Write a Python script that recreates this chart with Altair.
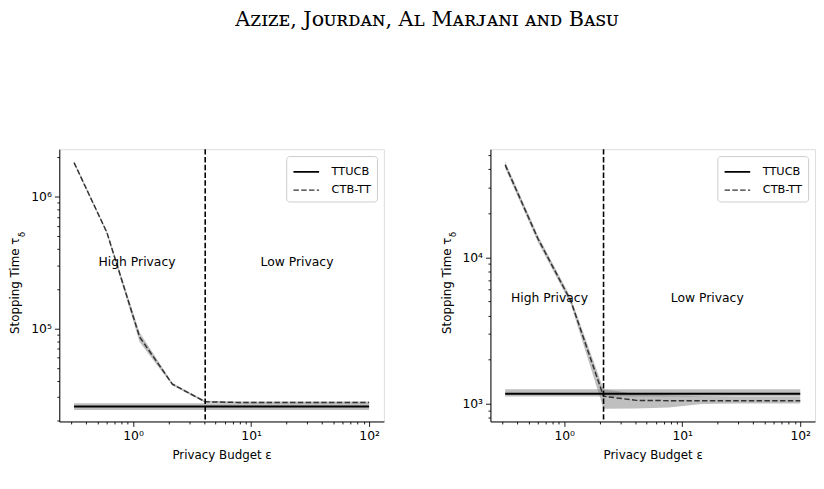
import altair as alt
import pandas as pd

# ---------------- data ----------------
eps = [0.316, 0.599, 1.136, 2.154, 4.084, 7.743, 14.68, 27.83, 52.75, 100.0]

# left panel
L_ttucb    = [25500, 25500, 25500, 25500, 25500, 25500, 25500, 25500, 25500, 25500]
L_ttucb_lo = [24000, 24000, 24000, 24000, 24000, 24000, 24000, 24000, 24000, 24000]
L_ttucb_hi = [27000, 27000, 27000, 27000, 27000, 27000, 27000, 27000, 27000, 27000]
L_ctb      = [1820000, 537000, 86000, 37700, 27700, 27400, 27400, 27400, 27400, 27400]
L_ctb_lo   = [1780000, 525000, 79000, 36900, 27200, 26900, 26900, 26900, 26900, 26900]
L_ctb_hi   = [1860000, 550000, 93000, 38500, 28200, 27900, 27900, 27900, 27900, 27900]
L_split = [4.084]
L_text = ["High Privacy", "Low Privacy"]
L_text_x = [1.08, 24.5]
L_text_y = [322000, 322000]

# right panel
R_ttucb    = [1167, 1167, 1167, 1167, 1167, 1167, 1167, 1167, 1167, 1167]
R_ttucb_lo = [1115, 1115, 1115, 1115, 1115, 1115, 1115, 1115, 1115, 1115]
R_ttucb_hi = [1250, 1250, 1250, 1250, 1250, 1250, 1250, 1250, 1250, 1250]
R_ctb      = [42900, 13400, 5040, 1120, 1050, 1045, 1045, 1045, 1045, 1045]
R_ctb_lo   = [40800, 12700, 4800, 920, 925, 940, 990, 1000, 1000, 1000]
R_ctb_hi   = [45100, 14100, 5300, 1250, 1160, 1140, 1120, 1110, 1110, 1110]
R_split = [2.154]
R_text = ["High Privacy", "Low Privacy"]
R_text_x = [0.75, 16.3]
R_text_y = [5300, 5300]

series = ["TTUCB", "CTB-TT"]

x_ticks = [0.3, 0.4, 0.5, 0.6, 0.7, 0.8, 0.9, 1, 2, 3, 4, 5, 6, 7, 8, 9,
           10, 20, 30, 40, 50, 60, 70, 80, 90, 100]
L_y_ticks = [20000, 30000, 40000, 50000, 60000, 70000, 80000, 90000, 100000,
             200000, 300000, 400000, 500000, 600000, 700000, 800000, 900000,
             1000000, 2000000]
R_y_ticks = [800, 900, 1000, 2000, 3000, 4000, 5000, 6000, 7000, 8000, 9000,
             10000, 20000, 30000, 40000, 50000]

FONT = "DejaVu Sans"
X_DOMAIN = [0.237, 133.4]


def axis(values, majors, labels, title, title_pad):
    test = "indexof(" + str(majors) + ", datum.value) >= 0"
    expr = ""
    for m, lab in zip(majors, labels):
        expr += f"datum.value == {m} ? '{lab}' : "
    expr += "''"
    return alt.Axis(
        values=values, labelExpr=expr, title=title, grid=False,
        tickSize={"condition": {"test": test, "value": 5}, "value": 2.5},
        tickColor="black", domainColor="black", tickWidth=0.9,
        labelFont=FONT, labelFontSize=12.5, labelColor="black",
        titleFont=FONT, titleFontSize=12, titleFontWeight="normal",
        titleColor="black", labelPadding=3, labelFlush=False,
        labelOverlap=False, titlePadding=title_pad,
    )


def legend():
    return alt.Legend(
        title=None, orient="top-right", offset=7,
        padding=6, strokeColor="#cccccc", cornerRadius=3,
        fillColor="white", labelFont=FONT, labelFontSize=11.5,
        labelColor="black", symbolType="M-1,0H2",
        symbolSize=300, symbolStrokeWidth=1.6,
        rowPadding=3, labelOffset=20)


def panel(tt, tt_lo, tt_hi, cb, cb_lo, cb_hi, split, txt, tx, ty,
          y_domain, y_ticks, y_majors, y_labels):
    lines = pd.DataFrame({
        "eps": eps + eps,
        "val": tt + cb,
        "lo": tt_lo + cb_lo,
        "hi": tt_hi + cb_hi,
        "series": ["TTUCB"] * len(eps) + ["CTB-TT"] * len(eps),
    })
    xs = alt.Scale(type="log", domain=X_DOMAIN, nice=False, zero=False)
    ys = alt.Scale(type="log", domain=y_domain, nice=False, zero=False)
    xenc = alt.X("eps:Q", scale=xs,
                 axis=axis(x_ticks, [1, 10, 100], ["10⁰", "10¹", "10²"],
                           "Privacy Budget ε", 8))
    yaxis = axis(y_ticks, y_majors, y_labels, "Stopping Time τ", 9)
    base = alt.Chart(lines)
    band = base.mark_area(color="#808080", opacity=0.5).encode(
        x=xenc,
        y=alt.Y("lo:Q", scale=ys, axis=yaxis),
        y2="hi:Q",
        detail="series:N",
    )
    line = base.mark_line().encode(
        x=xenc,
        y=alt.Y("val:Q", scale=ys, axis=yaxis),
        color=alt.Color("series:N",
                        scale=alt.Scale(domain=series, range=["#000000", "#333333"]),
                        legend=legend()),
        strokeDash=alt.StrokeDash("series:N",
                                  scale=alt.Scale(domain=series, range=[[1, 0], [5.5, 2.4]]),
                                  legend=legend()),
        strokeWidth=alt.StrokeWidth("series:N",
                                    scale=alt.Scale(domain=series, range=[2.0, 1.5]),
                                    legend=None),
    )
    rule = alt.Chart(pd.DataFrame({"eps": split})).mark_rule(
        color="black", strokeWidth=1.6, strokeDash=[5.5, 2.4]
    ).encode(x=alt.X("eps:Q", scale=xs))
    text = alt.Chart(pd.DataFrame({"x": tx, "y": ty, "t": txt})).mark_text(
        font=FONT, fontSize=12.5, color="black", baseline="middle", align="center"
    ).encode(x=alt.X("x:Q", scale=xs), y=alt.Y("y:Q", scale=ys), text="t:N")
    sub = alt.Chart(pd.DataFrame({"t": ["δ"]})).mark_text(
        font=FONT, fontSize=8.5, color="black", angle=270, align="left",
        baseline="middle"
    ).encode(x=alt.value(-38), y=alt.value(89), text="t:N")
    return alt.layer(band, line, rule, text, sub).properties(width=329, height=276)


left = panel(L_ttucb, L_ttucb_lo, L_ttucb_hi, L_ctb, L_ctb_lo, L_ctb_hi,
             L_split, L_text, L_text_x, L_text_y,
             [19630, 2300000], L_y_ticks, [100000, 1000000], ["10⁵", "10⁶"])
right = panel(R_ttucb, R_ttucb_lo, R_ttucb_hi, R_ctb, R_ctb_lo, R_ctb_hi,
              R_split, R_text, R_text_x, R_text_y,
              [753, 54950], R_y_ticks, [1000, 10000], ["10³", "10⁴"])

chart = alt.hconcat(left, right, spacing=55).resolve_scale(
    color="independent", strokeDash="independent", strokeWidth="independent"
).resolve_legend(
    color="independent", strokeDash="independent"
).properties(
    title=alt.TitleParams("Aᴢɪᴢᴇ, Jᴏᴜʀᴅᴀɴ, Aʟ Mᴀʀᴊᴀɴɪ ᴀɴᴅ Bᴀꜱᴜ",
                          font="DejaVu Serif", fontSize=21, fontWeight="normal",
                          color="black", anchor="middle", offset=120, dx=15),
    padding={"top": -3, "left": 0, "right": 0, "bottom": 0},
).configure_view(stroke="black", strokeWidth=1).configure(background="white")

chart.save("out.html", embed_options={"renderer": "svg", "actions": False})
